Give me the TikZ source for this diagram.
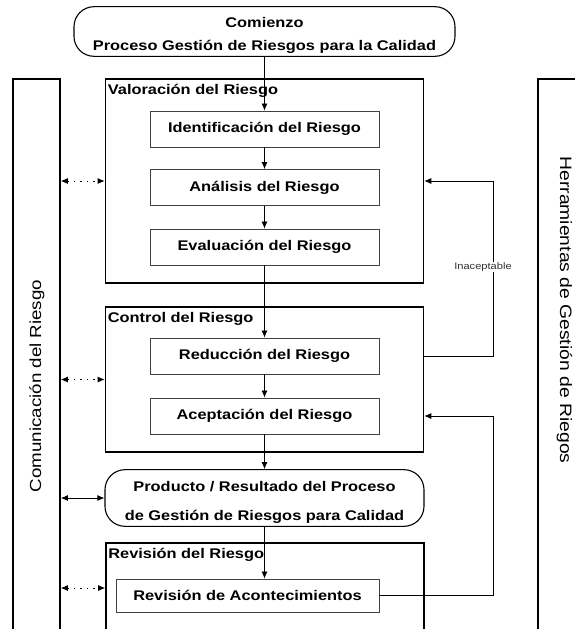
\documentclass[tikz,border=0pt]{standalone}
\usepackage{fontspec}
\setmainfont[FakeStretch=1.17]{Liberation Sans}
\usetikzlibrary{arrows.meta}

\tikzset{
  stage/.style={draw, line width=1.6pt, minimum width=318pt},
  task/.style={draw=black!75, line width=0.9pt, minimum width=229pt, minimum height=36pt,
    font=\fontsize{14}{16}\selectfont\bfseries},
  term/.style={draw, line width=1.1pt, rounded corners=20pt, align=center,
    font=\fontsize{14}{23}\selectfont\bfseries},
  side/.style={draw, line width=1.6pt},
  title/.style={anchor=north west, inner sep=2pt, font=\fontsize{14}{16}\selectfont\bfseries},
  flow/.style={-{Latex[length=7pt,width=6pt]}, line width=0.8pt},
  both/.style={{Latex[length=7pt,width=6pt]}-{Latex[length=7pt,width=6pt]}, line width=0.9pt},
  talk/.style={both, dash pattern=on 1.5pt off 5pt}
}

\begin{document}
\begin{tikzpicture}[x=1pt, y=-1pt]
\clip (0,0) rectangle (575,629);

% process stages
\path
(264.5, 31.5) node[term, minimum width=381pt, minimum height=43pt] (start) {\rule{0pt}{17pt}Comienzo\\Proceso Gestión de Riesgos para la Calidad}
(264.5, 181) node[stage, minimum height=204pt] (valor) {}
(264.5, 379.5) node[stage, minimum height=145pt] (ctrl) {}
(264.5, 498) node[term, minimum width=319pt, minimum height=48pt, font=\fontsize{14}{29}\selectfont\bfseries] (prod) {\rule{0pt}{18pt}Producto / Resultado del Proceso\\de Gestión de Riesgos para Calidad}
(265, 588) node[stage, minimum height=90pt] (revis) {}
;

\node[title] (valort) at ([shift={(1,4)}]valor.north west) {Valoración del Riesgo};
\node[title] (ctrlt) at ([shift={(1,4)}]ctrl.north west) {Control del Riesgo};
\node[title] (revist) at ([shift={(1,4)}]revis.north west) {Revisión del Riesgo};

\foreach \n/\y/\t in {ident/129/Identificación del Riesgo, anal/187.5/Análisis del Riesgo,
    eval/247/Evaluación del Riesgo, reduc/356/Reducción del Riesgo, acept/416/Aceptación del Riesgo}
    \node[task] (\n) at (264.5, \y) {\t};
\node[task, minimum width=263pt, minimum height=33pt] (acont) at (247.5, 595.5) {Revisión de Acontecimientos};

% side bars
\node[side, minimum width=47pt, minimum height=600pt, anchor=north] (comm) at (36.5, 78) {};
\node[side, minimum width=60pt, minimum height=600pt, anchor=north west] (tools) at (537, 78) {};
\node[rotate=90, font=\fontsize{16}{18}\selectfont] (commt) at (37, 386) {Comunicación del Riesgo};
\node[rotate=-90, font=\fontsize{16.5}{18}\selectfont] (toolst) at (564.5, 310) {Herramientas de Gestión de Riegos};

% main flow
\draw[flow] (start) -- (ident);
\foreach \a/\b in {ident/anal, anal/eval, eval/reduc, reduc/acept, acept/prod}
    \draw[flow] (\a) -- (\b);
\draw[flow] (prod) -- (prod |- acont.north);

% communication
\foreach \n in {valor, ctrl, revis}
    \draw[talk] (comm.east |- \n) -- (\n.west);
\draw[both] (comm.east |- prod) -- (prod.west);

% feedback loops
\draw[flow] (reduc -| ctrl.east) -- ++(69,0) coordinate (loop) |- (valor.east);
\draw[flow] (acont.east) -- (acont.east -| loop) |- (acept -| ctrl.east);
\node[fill=white, inner sep=1pt, text=black!80, font=\fontsize{9.5}{10}\selectfont] (inac) at (483, 267) {Inaceptable};

\end{tikzpicture}
\end{document}
